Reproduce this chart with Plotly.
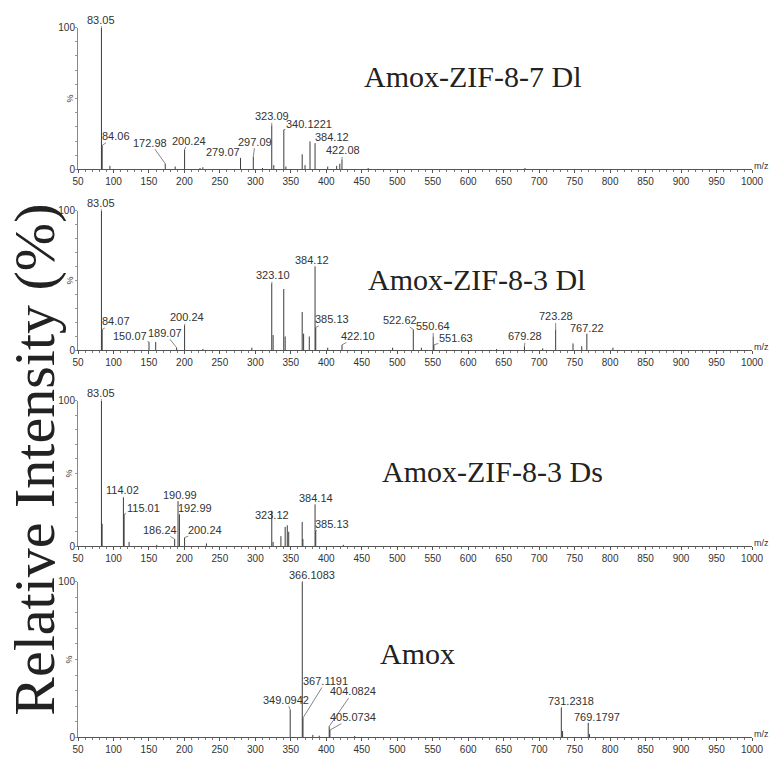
import plotly.graph_objects as go

# ---------------- data ----------------
TITLES = ["Amox-ZIF-8-7 Dl", "Amox-ZIF-8-3 Dl", "Amox-ZIF-8-3 Ds", "Amox"]
X_TICKS = list(range(50, 1001, 50))

P1_MZ = [83.05, 84.06, 95.0, 172.98, 187.0, 200.24, 222.0, 226.0, 279.07, 297.09, 310.0,
         323.09, 326.0, 340.1221, 343.0, 366.0, 370.0, 377.0, 384.12, 402.0, 414.6,
         419.0, 422.08, 459.0, 680.0]
P1_INT = [100, 17, 2.5, 4, 2, 14, 1, 1.5, 8, 9, 1,
          31, 3, 28, 2, 10.6, 3, 19.7, 18.5, 2, 2.5,
          4, 7, 1, 1]
P1_LABELS = ["83.05", "84.06", "172.98", "200.24", "279.07", "297.09", "323.09",
             "340.1221", "384.12", "422.08"]

P2_MZ = [83.05, 84.07, 150.07, 159.5, 189.07, 200.24, 226.0, 295.0, 323.10, 325.0,
         340.0, 342.0, 366.0, 368.0, 376.0, 384.12, 385.13, 402.0, 422.10, 493.5,
         522.62, 534.0, 550.64, 551.63, 640.0, 679.28, 705.0, 723.28, 747.7, 760.0,
         767.22, 804.0]
P2_INT = [100, 15, 6, 6, 2, 18, 1, 2, 48, 11,
          44, 10, 27.5, 12, 10, 60, 16.5, 2, 4, 2,
          15, 2, 10, 4, 1, 3, 1.5, 15, 5, 3,
          12, 2]
P2_LABELS = ["83.05", "84.07", "150.07", "189.07", "200.24", "323.10", "384.12",
             "385.13", "422.10", "522.62", "550.64", "551.63", "679.28", "723.28",
             "767.22"]

P3_MZ = [83.05, 84.0, 114.02, 115.01, 122.0, 161.0, 186.24, 190.99, 192.99, 200.24,
         231.0, 323.12, 325.0, 336.0, 342.0, 345.0, 347.0, 366.0, 367.0, 384.14,
         385.13, 424.0]
P3_INT = [100, 15.5, 33.6, 22, 3, 1, 5, 31, 22, 6,
          2, 24.5, 3, 7, 13.3, 14.4, 10, 16.7, 5, 28.6,
          10.6, 1]
P3_LABELS = ["83.05", "114.02", "115.01", "186.24", "190.99", "192.99", "200.24",
             "323.12", "384.14", "385.13"]

P4_MZ = [349.0942, 366.1083, 367.1191, 381.0, 390.0, 404.0824, 405.0734, 440.0,
         731.2318, 733.0, 769.1797, 771.0]
P4_INT = [17.7, 100, 12.4, 1.5, 1, 7, 4.6, 0.8,
          19, 4, 9.3, 2]
P4_LABELS = ["349.0942", "366.1083", "367.1191", "404.0824", "405.0734",
             "731.2318", "769.1797"]

PANELS = [(P1_MZ, P1_INT, P1_LABELS), (P2_MZ, P2_INT, P2_LABELS),
          (P3_MZ, P3_INT, P3_LABELS), (P4_MZ, P4_INT, P4_LABELS)]

# ---------------- layout / style ----------------
W, H = 769, 758
ML, MR = 78, 17
# (top of 100 %, baseline) in pixels for each panel
PANEL_PX = [(22, 166), (208, 350), (401, 549), (585, 743)]
# label text offsets (px) relative to peak top
LABEL_OFF = [
    [(0, -8), (14, -9), (-15, -21), (4, -9), (-18, -6), (2, -15), (0, -9),
     (25, -6), (17, -6), (1, -9)],
    [(0, -8), (14, -8), (-19, -6), (-12, -15), (2, -8), (1, -8), (-3, -7),
     (16, -8), (16, -9), (-13, -9), (0, -10), (22, -7), (1, -10), (0, -13), (0, -6)],
    [(0, -8), (-1, -7), (19, -6), (-15, -9), (2, -6), (16, -6), (20, -8),
     (0, 4), (1, -7), (16, -7)],
    [(-4, -10), (10, -7), (23, -37), (24, -35), (23, -13), (10, -7), (9, -6)],
]
TITLE_POS = [(0.585, 0.653), (0.591, 0.507), (0.615, 0.514), (0.504, 0.538)]

AX_COLOR = "#555555"
TXT_COLOR = "#333333"
SANS = "Liberation Sans, Arial, sans-serif"
SERIF = "Liberation Serif, Times New Roman, serif"

fig = go.Figure()
annotations = []

for i, ((mz, inten, labels), (top, base)) in enumerate(zip(PANELS, PANEL_PX), start=1):
    sfx = "" if i == 1 else str(i)
    xs, ys = [], []
    for m, h in zip(mz, inten):
        xs += [m, m, None]
        ys += [0, h, None]
    fig.add_trace(go.Scatter(x=xs, y=ys, mode="lines",
                             line=dict(color="#3c3c3c", width=1),
                             xaxis=f"x{sfx}", yaxis=f"y{sfx}", showlegend=False,
                             hoverinfo="skip"))
    dom = [1 - base / H, 1 - top / H]
    xa = dict(domain=[0, 1], range=[50, 1000], anchor=f"y{sfx}",
              tickvals=X_TICKS, ticks="outside", ticklen=3, tickcolor=AX_COLOR,
              showline=True, linecolor=AX_COLOR, linewidth=1, showgrid=False,
              zeroline=False, tickfont=dict(family=SANS, size=10, color=TXT_COLOR),
              minor=dict(dtick=10, ticks="outside", ticklen=2, tickcolor="#777777"))
    ya = dict(domain=dom, range=[0, 100], anchor=f"x{sfx}",
              tickvals=[0, 100], ticks="", showline=True, linecolor="#888888",
              linewidth=1, showgrid=False, zeroline=False,
              tickfont=dict(family=SANS, size=10, color=TXT_COLOR),
              minor=dict(dtick=10, ticks="outside", ticklen=2, tickcolor="#999999"))
    fig.update_layout(**{f"xaxis{sfx}": xa, f"yaxis{sfx}": ya})

    for text, (dx, dy) in zip(labels, LABEL_OFF[i - 1]):
        m = float(text)
        h = inten[mz.index(m)]
        annotations.append(dict(x=m, y=h, xref=f"x{sfx}", yref=f"y{sfx}", text=text,
                                showarrow=True, arrowhead=0, arrowwidth=0.8,
                                arrowcolor="#666666", ax=dx, ay=dy, standoff=0,
                                borderpad=0,
                                font=dict(family=SANS, size=11, color=TXT_COLOR)))
    tx, ty = TITLE_POS[i - 1]
    annotations.append(dict(x=tx, y=ty, xref=f"x{sfx} domain", yref=f"y{sfx} domain",
                            text=TITLES[i - 1], showarrow=False,
                            xanchor="center", yanchor="middle",
                            font=dict(family=SERIF, size=30, color="#222222")))
    annotations.append(dict(x=-0.012, y=0.5, xref=f"x{sfx} domain", yref=f"y{sfx} domain",
                            text="%", textangle=-90, showarrow=False,
                            xanchor="center", yanchor="middle",
                            font=dict(family=SANS, size=9, color=TXT_COLOR)))
    annotations.append(dict(x=1.0, y=0, xref=f"x{sfx} domain", yref=f"y{sfx} domain",
                            text="m/z", showarrow=False, xanchor="left",
                            yanchor="bottom", xshift=0, yshift=-4,
                            font=dict(family=SANS, size=9, color=TXT_COLOR)))

annotations.append(dict(x=(35 - ML) / (W - ML - MR), y=1 - 461 / H, xref="paper",
                        yref="paper", text="Relative Intensity (%)", textangle=-90,
                        showarrow=False, xanchor="center", yanchor="middle",
                        font=dict(family=SERIF, size=58, color="#222222")))

fig.update_layout(width=W, height=H, margin=dict(l=ML, r=MR, t=0, b=0),
                  paper_bgcolor="white", plot_bgcolor="white",
                  annotations=annotations, showlegend=False)

fig.write_html("out.html", config={"displayModeBar": False},
               post_script="document.body.style.margin='0px';"
                           "document.body.style.overflow='hidden';")
